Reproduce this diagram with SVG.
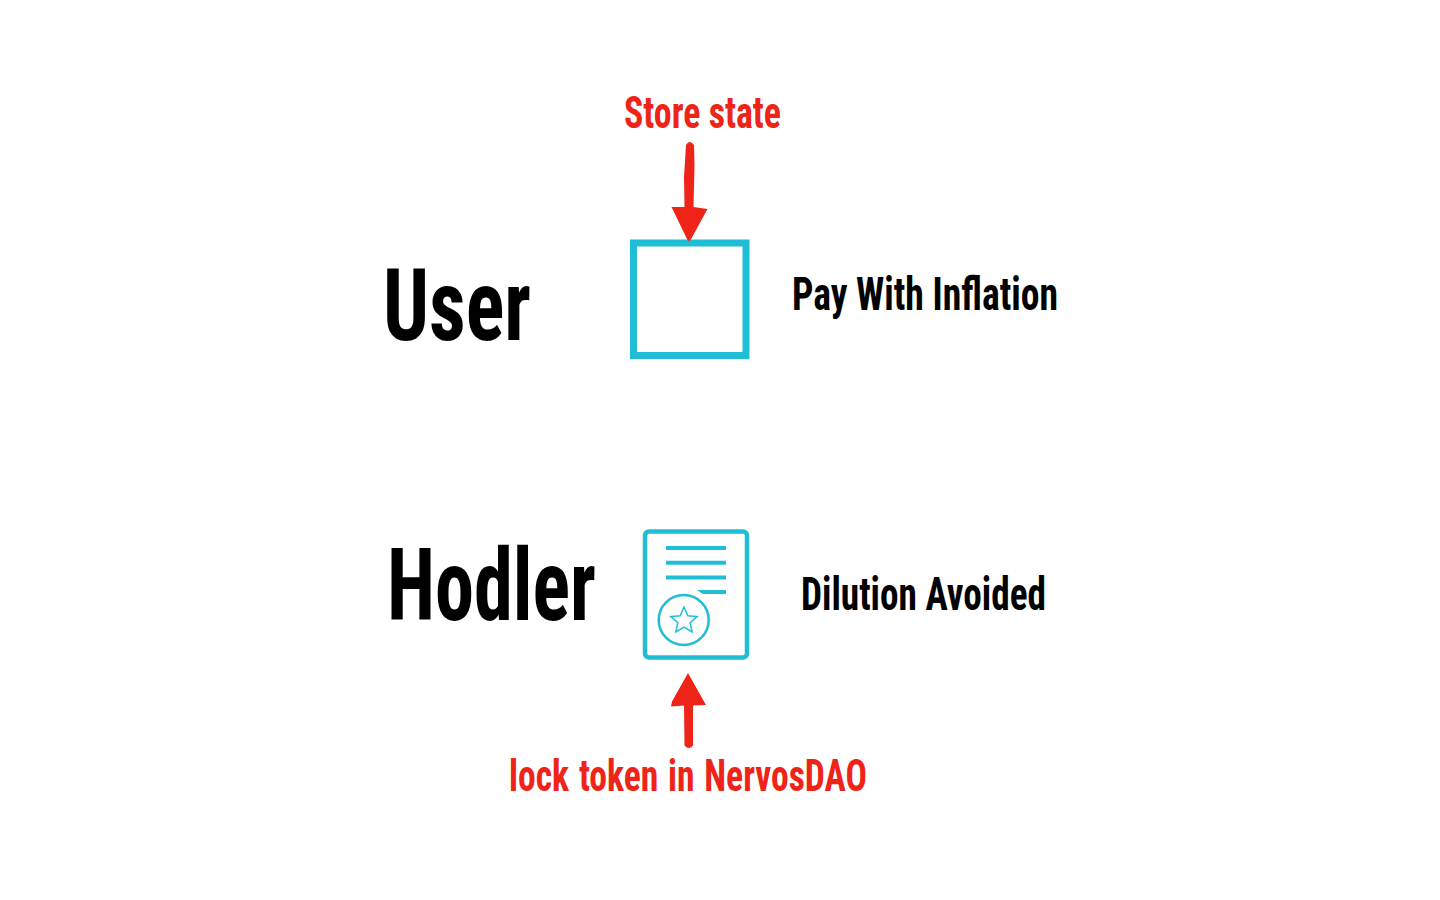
<svg xmlns="http://www.w3.org/2000/svg" width="1440" height="900" viewBox="0 0 1440 900">
<style>
text{font-family:"Liberation Sans Narrow","Roboto Condensed","Liberation Sans",sans-serif;font-weight:700}
.k{fill:#000}
.r{fill:#ee2419}
.c{fill:none;stroke:#1fbdd6}
</style>
<rect width="1440" height="900" fill="#fff"/>
<g id="user-label"><text class="k" x="383" y="340" font-size="100" textLength="148" lengthAdjust="spacingAndGlyphs">User</text></g>
<g id="hodler-label"><text class="k" x="387" y="620" font-size="100" textLength="209" lengthAdjust="spacingAndGlyphs">Hodler</text></g>
<g id="user-box"><rect class="c" x="633.500" y="243" width="112.500" height="112.500" stroke-width="7"/></g>
<g id="pay-label"><text class="k" x="792" y="310" font-size="47" textLength="266" lengthAdjust="spacingAndGlyphs">Pay With Inflation</text></g>
<g id="dilution-label"><text class="k" x="801" y="610" font-size="47" textLength="245" lengthAdjust="spacingAndGlyphs">Dilution Avoided</text></g>
<g id="store-label"><text class="r" x="624" y="128" font-size="44" textLength="157" lengthAdjust="spacingAndGlyphs">Store state</text></g>
<g id="lock-label"><text class="r" x="509" y="791" font-size="45" word-spacing="2" textLength="358" lengthAdjust="spacingAndGlyphs">lock token in NervosDAO</text></g>
<g id="certificate">
<rect class="c" x="645" y="531.500" width="102" height="126" rx="4" stroke-width="4.500"/>
<path class="c" stroke-width="4" d="M666 548H726M666 562.700H726M666 577.500H726M708 592H726"/>
<path fill="#1fbdd6" d="M697 590H708V594H703z"/>
<circle class="c" cx="683.700" cy="620" r="25" stroke-width="2.500"/>
<path class="c" stroke-width="1.500" d="M684 607l3.800 8.700 9.400.9-7.100 6.200 2.100 9.200-8.200-4.800-8.200 4.800 2.100-9.200-7.100-6.200 9.400-.9z"/>
</g>
<g id="connectors" fill="#ee2419" stroke="none">
<path d="M686 145q3.500-6 8 0l.5 20-1 42 14 2-17 31q-2 2-3 0l-16-33 13 0-.5-30z"/>
<path d="M688 673l18 32-13 .5v40q-4 5-8.500 0l-.5-40-13 1 1-5z"/>
</g>
</svg>
